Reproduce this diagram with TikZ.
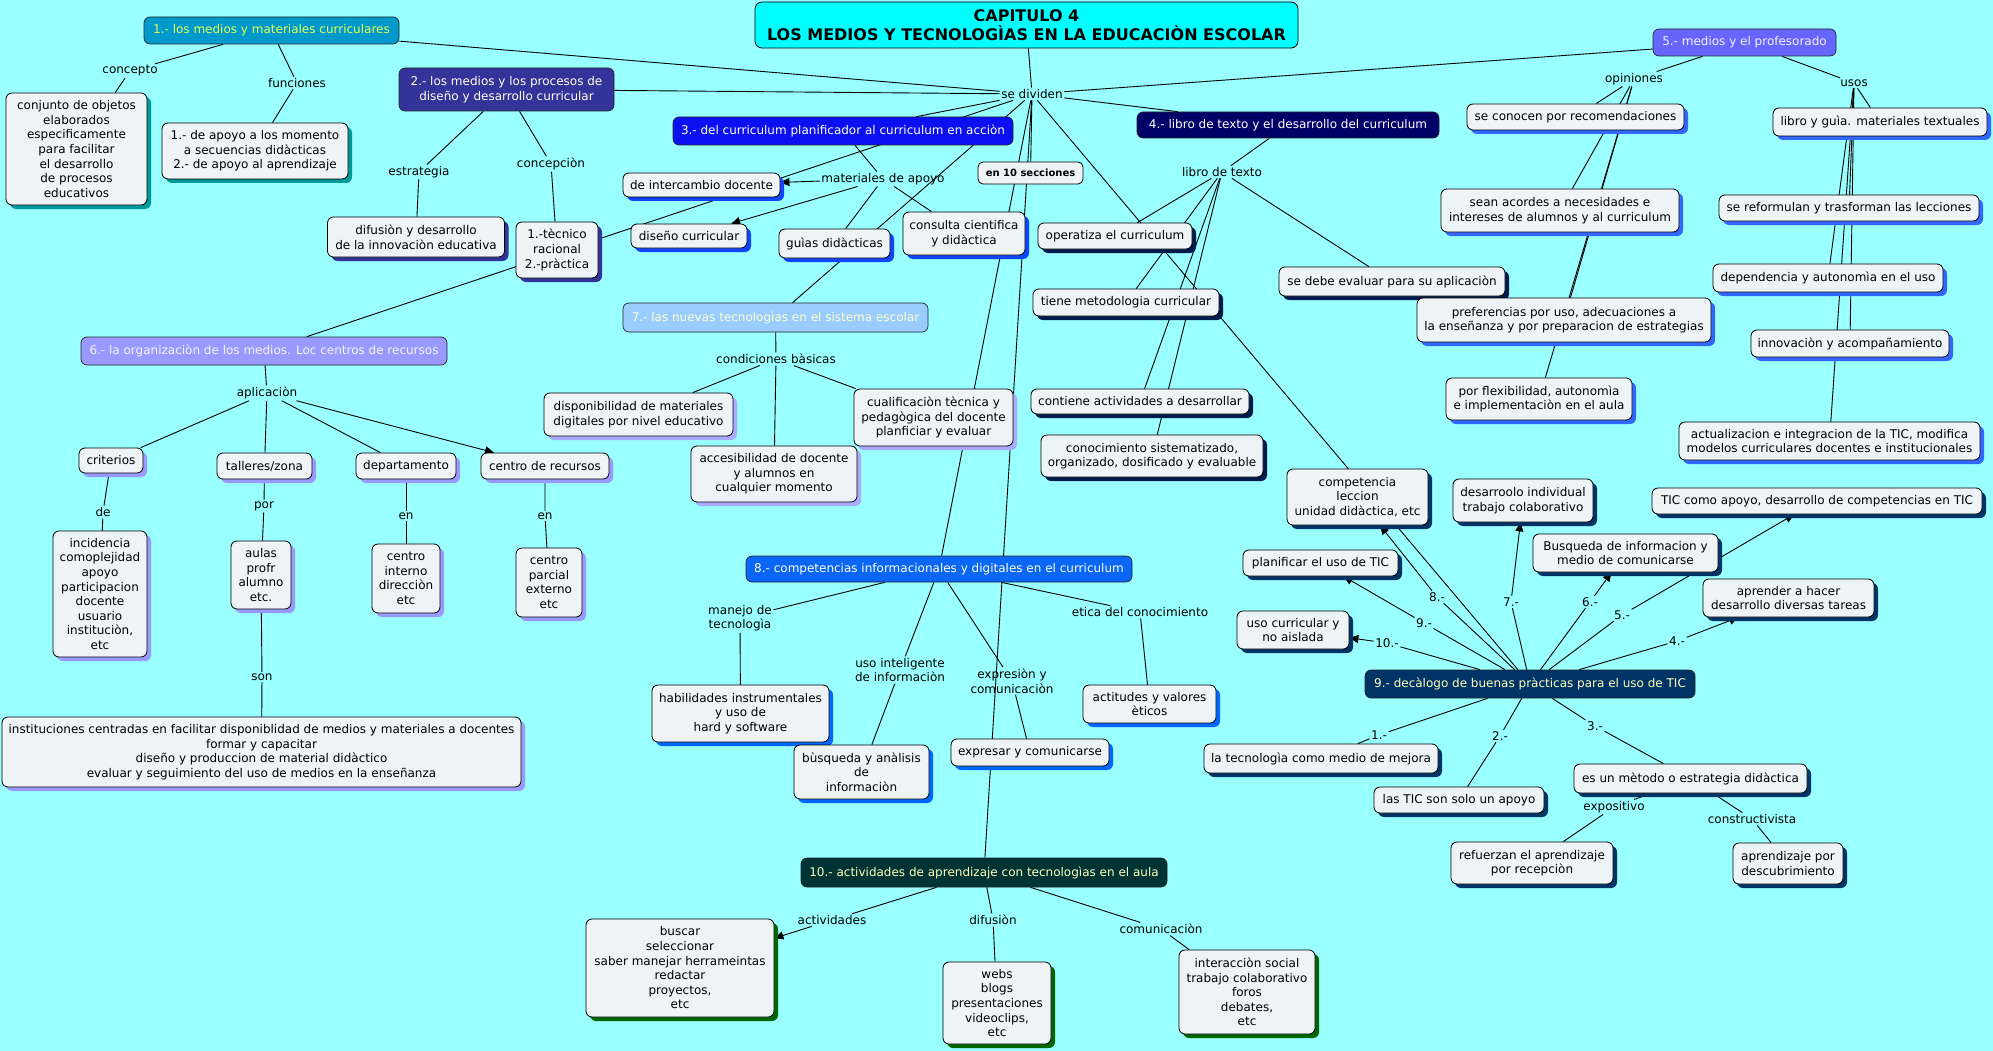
\documentclass[tikz,border=0pt]{standalone}
\usepackage{fontspec}
\setmainfont{DejaVu Sans}
\usetikzlibrary{shadows,arrows.meta}
\pgfdeclarelayer{background}
\pgfsetlayers{background,main}
\definecolor{bg}{HTML}{99FFFF}
\definecolor{cbox}{HTML}{EEF3F6}
\definecolor{titc}{HTML}{00FFFF}
\definecolor{h1}{HTML}{0099CC}\definecolor{t1}{HTML}{E8FF50}
\definecolor{h2}{HTML}{333399}\definecolor{t2}{HTML}{FFFFEE}
\definecolor{h3}{HTML}{0A10F0}
\definecolor{h4}{HTML}{000066}
\definecolor{h5}{HTML}{6666FF}\definecolor{t5}{HTML}{F2F2FF}
\definecolor{h6}{HTML}{9999FF}\definecolor{t6}{HTML}{F5F5F5}
\definecolor{h7}{HTML}{99CCFF}\definecolor{t7}{HTML}{FFFFCC}
\definecolor{h8}{HTML}{0A66F5}
\definecolor{h9}{HTML}{003366}\definecolor{t9}{HTML}{FFFFBB}
\definecolor{h10}{HTML}{003333}
\definecolor{sg1}{HTML}{009999}
\definecolor{sg2}{HTML}{333399}
\definecolor{sg3}{HTML}{1144FF}
\definecolor{sg4}{HTML}{001A4D}
\definecolor{sg5}{HTML}{3366FF}
\definecolor{sg6}{HTML}{9999FF}
\definecolor{sg7}{HTML}{AAAAFF}
\definecolor{sg8}{HTML}{0066FF}
\definecolor{sg9}{HTML}{003366}
\definecolor{sg10}{HTML}{006600}
\newcommand\cmfs{\fontsize{12}{14.6}\selectfont}
\tikzset{
 cb/.style={draw=black, line width=0.8pt, rounded corners=6pt, fill=cbox, align=center, inner sep=2pt, font=\cmfs, text=black},
 shd/.style={drop shadow={shadow xshift=4pt, shadow yshift=-4pt, fill=#1, opacity=1}},
 g1/.style={cb, shd=sg1}, g2/.style={cb, shd=sg2}, g3/.style={cb, shd=sg3},
 g4/.style={cb, shd=sg4}, g5/.style={cb, shd=sg5}, g6/.style={cb, shd=sg6},
 g7/.style={cb, shd=sg7}, g8/.style={cb, shd=sg8}, g9/.style={cb, shd=sg9},
 g10/.style={cb, shd=sg10},
 hd/.style={draw=black!85, line width=0.7pt, rounded corners=6pt, align=center, inner sep=2pt, font=\cmfs},
 lbl/.style={font=\cmfs, inner sep=1.5pt, align=center, text=black},
 arr/.style={-{Triangle[length=9pt,width=8pt]}},
 sz/.style 2 args={minimum width=#1pt, minimum height=#2pt}
}
\begin{document}
\begin{tikzpicture}[x=1pt,y=-1pt]
\path[use as bounding box] (0,0) rectangle (1993,1051);
% title
\node[draw=black, line width=0.8pt, rounded corners=7pt, fill=titc, align=center, font=\fontsize{16}{19.5}\selectfont\bfseries, sz={543}{46}, inner sep=1pt] (tit) at (1026.5,25) {CAPITULO 4\\LOS MEDIOS Y TECNOLOGÌAS EN LA EDUCACIÒN ESCOLAR};
% headers
\node[hd, fill=h1, text=t1, sz={255}{27}] (n1) at (271.5,30.5) {1.- los medios y materiales curriculares};
\node[hd, fill=h2, text=t2, sz={215}{43}] (n2) at (506.5,89.5) {2.- los medios y los procesos de\\diseño y desarrollo curricular};
\node[hd, fill=h3, text=white, sz={340}{28}] (n3) at (843,131) {3.- del curriculum planificador al curriculum en acciòn};
\node[hd, fill=h4, text=white, sz={302}{26}] (n4) at (1288,125) {4.- libro de texto y el desarrollo del curriculum};
\node[hd, fill=h5, text=t5, sz={183}{27}] (n5) at (1744.5,42.5) {5.- medios y el profesorado};
\node[hd, fill=h6, text=t6, sz={366}{28}] (n6) at (264,351) {6.- la organizaciòn de los medios. Loc centros de recursos};
\node[hd, fill=h7, text=t7, sz={305}{29}] (n7) at (775.5,317.5) {7.- las nuevas tecnologìas en el sistema escolar};
\node[hd, fill=h8, text=white, sz={386}{26}] (n8) at (939,569) {8.- competencias informacionales y digitales en el curriculum};
\node[hd, fill=h9, text=t9, sz={330}{28}] (n9) at (1530,684) {9.- decàlogo de buenas pràcticas para el uso de TIC};
\node[hd, fill=h10, text=t9, sz={366}{29}] (n10) at (984,872.5) {10.- actividades de aprendizaje con tecnologìas en el aula};
\node[cb, font=\fontsize{10}{12}\selectfont\bfseries, sz={105}{22}, rounded corners=5pt] (en10) at (1030.5,173) {en 10 secciones};
% labels
\node[lbl] (sedi) at (1032,94) {se dividen};
\node[lbl] (lcon) at (130,71) {concepto};
\node[lbl] (lfun) at (297,83) {funciones};
\node[lbl] (lest) at (419,172) {estrategia};
\node[lbl] (lcpc) at (551,164) {concepciòn};
\node[lbl] (lmat) at (883,179) {materiales de apoyo};
\node[lbl] (llib) at (1222,172) {libro de texto};
\node[lbl] (lopi) at (1634,79) {opiniones};
\node[lbl] (lusos) at (1854,83) {usos};
\node[lbl] (lapl) at (267,393) {aplicaciòn};
\node[lbl] (lde) at (103,512) {de};
\node[lbl] (lpor) at (264,506) {por};
\node[lbl] (len1) at (406,516) {en};
\node[lbl] (len2) at (545,516) {en};
\node[lbl] (lson) at (262,677) {son};
\node[lbl] (lcond) at (776,359) {condiciones bàsicas};
\node[lbl] (lman) at (740,618) {manejo de\\tecnologìa};
\node[lbl] (luso) at (900,670) {uso inteligente\\de informaciòn};
\node[lbl] (lexp) at (1012,681) {expresiòn y\\comunicaciòn};
\node[lbl] (leti) at (1140,612) {etica del conocimiento};
\node[lbl] (lact) at (832,920) {actividades};
\node[lbl] (ldif) at (993,920) {difusiòn};
\node[lbl] (lcom) at (1161,929) {comunicaciòn};
\node[lbl] (l1) at (1379,735) {1.-};
\node[lbl] (l2) at (1500,736) {2.-};
\node[lbl] (l3) at (1595,726) {3.-};
\node[lbl] (l4) at (1677,641) {4.-};
\node[lbl] (l5) at (1622,615) {5.-};
\node[lbl] (l6) at (1590,602) {6.-};
\node[lbl] (l7) at (1511,602) {7.-};
\node[lbl] (l8) at (1437,597) {8.-};
\node[lbl] (l9) at (1424,623) {9.-};
\node[lbl] (l10) at (1387,643) {10.-};
\node[lbl] (lexpo) at (1614,807) {expositivo};
\node[lbl] (lcons) at (1752,819) {constructivista};
% group 1
\node[g1, sz={141}{112}] (conj) at (76.5,149) {conjunto de objetos\\elaborados\\especificamente\\para facilitar\\el desarrollo\\de procesos\\educativos};
\node[g1, sz={186}{56}] (func) at (255,151) {1.- de apoyo a los momento\\a secuencias didàcticas\\2.- de apoyo al aprendizaje};
% group 2
\node[g2, sz={177}{40}] (difu) at (416,237) {difusiòn y desarrollo\\de la innovaciòn educativa};
\node[g2, sz={82}{56}] (tecn) at (557,250) {1.-tècnico\\racional\\2.-pràctica};
% group 3
\node[g3, sz={157}{24}] (inter) at (701.5,185) {de intercambio docente};
\node[g3, sz={116}{24}] (disen) at (689,236) {diseño curricular};
\node[g3, sz={111}{29}] (guias) at (834.5,243.5) {guìas didàcticas};
\node[g3, sz={122}{43}] (consu) at (964,233.5) {consulta cientifica\\y didàctica};
% group 4
\node[g4, sz={154}{26}] (opera) at (1115,236) {operatiza el curriculum};
\node[g4, sz={186}{27}] (tiene) at (1126,302.5) {tiene metodologia curricular};
\node[g4, sz={218}{25}] (conti) at (1140,401.5) {contiene actividades a desarrollar};
\node[g4, sz={222}{42}] (conoc) at (1152,456) {conocimiento sistematizado,\\organizado, dosificado y evaluable};
\node[g4, sz={226}{29}] (evalu) at (1392,281.5) {se debe evaluar para su aplicaciòn};
% group 5
\node[g5, sz={217}{26}] (conoce) at (1575.5,117) {se conocen por recomendaciones};
\node[g5, sz={238}{43}] (acord) at (1560,210.5) {sean acordes a necesidades e\\intereses de alumnos y al curriculum};
\node[g5, sz={294}{44}] (prefe) at (1564,320) {preferencias por uso, adecuaciones a\\la enseñanza y por preparacion de estrategias};
\node[g5, sz={186}{42}] (flexi) at (1539,399) {por flexibilidad, autonomìa\\e implementaciòn en el aula};
\node[g5, sz={214}{28}] (libro) at (1880,122) {libro y guìa. materiales textuales};
\node[g5, sz={260}{26}] (refor) at (1849,208) {se reformulan y trasforman las lecciones};
\node[g5, sz={230}{28}] (depen) at (1828,278) {dependencia y autonomìa en el uso};
\node[g5, sz={198}{27}] (innov) at (1850,343.5) {innovaciòn y acompañamiento};
\node[g5, sz={301}{38}] (actua) at (1829.5,441) {actualizacion e integracion de la TIC, modifica\\modelos curriculares docentes e institucionales};
% group 6
\node[g6, sz={64}{25}] (crit) at (111,460.5) {criterios};
\node[g6, sz={95}{26}] (talle) at (264.5,466) {talleres/zona};
\node[g6, sz={100}{26}] (depa) at (406,466) {departamento};
\node[g6, sz={128}{26}] (cent) at (545,466) {centro de recursos};
\node[g6, sz={94}{126}] (inci) at (100,594) {incidencia\\comoplejidad\\apoyo\\participacion\\docente\\usuario\\instituciòn,\\etc};
\node[g6, sz={60}{68}] (aulas) at (261,575) {aulas\\profr\\alumno\\etc.};
\node[g6, sz={68}{69}] (cint) at (406,578.5) {centro\\interno\\direcciòn\\etc};
\node[g6, sz={66}{69}] (cpar) at (549,582.5) {centro\\parcial\\externo\\etc};
\node[g6, sz={519}{70}] (inst) at (261.5,752) {instituciones centradas en facilitar disponiblidad de medios y materiales a docentes\\formar y capacitar\\diseño y produccion de material didàctico\\evaluar y seguimiento del uso de medios en la enseñanza};
% group 7
\node[g7, sz={189}{43}] (dispo) at (638.5,414.5) {disponibilidad de materiales\\digitales por nivel educativo};
\node[g7, sz={166}{56}] (acces) at (774,474) {accesibilidad de docente\\y alumnos en\\cualquier momento};
\node[g7, sz={159}{57}] (cuali) at (933.5,417.5) {cualificaciòn tècnica y\\pedagògica del docente\\planficiar y evaluar};
% group 8
\node[g8, sz={177}{57}] (habil) at (740.5,713.5) {habilidades instrumentales\\y uso de\\hard y software};
\node[g8, sz={135}{54}] (busq) at (861.5,772) {bùsqueda y anàlisis\\de\\informaciòn};
\node[g8, sz={158}{27}] (expre) at (1030,752.5) {expresar y comunicarse};
\node[g8, sz={133}{38}] (actit) at (1149.5,704) {actitudes y valores\\èticos};
% group 9
\node[g9, sz={141}{56}] (compe) at (1357.5,497) {competencia\\leccion\\unidad didàctica, etc};
\node[g9, sz={155}{26}] (plani) at (1320.5,563) {planificar el uso de TIC};
\node[g9, sz={112}{38}] (usocu) at (1293,630) {uso curricular y\\no aislada};
\node[g9, sz={140}{43}] (desar) at (1523,500.5) {desarroolo individual\\trabajo colaborativo};
\node[g9, sz={330}{26}] (ticap) at (1817,501) {TIC como apoyo, desarrollo de competencias en TIC};
\node[g9, sz={185}{38}] (busi) at (1625.5,553) {Busqueda de informacion y\\medio de comunicarse};
\node[g9, sz={171}{38}] (apren) at (1788.5,598) {aprender a hacer\\desarrollo diversas tareas};
\node[g9, sz={234}{29}] (tecme) at (1321,758.5) {la tecnologìa como medio de mejora};
\node[g9, sz={170}{26}] (ticso) at (1459,800) {las TIC son solo un apoyo};
\node[g9, sz={233}{29}] (metod) at (1690.5,778.5) {es un mètodo o estrategia didàctica};
\node[g9, sz={162}{42}] (refue) at (1532,863) {refuerzan el aprendizaje\\por recepciòn};
\node[g9, sz={110}{41}] (descu) at (1788,863.5) {aprendizaje por\\descubrimiento};
% group 10
\node[g10, sz={188}{98}] (busca) at (680,968) {buscar\\seleccionar\\saber manejar herrameintas\\redactar\\proyectos,\\etc};
\node[g10, sz={108}{82}] (webs) at (997,1003) {webs\\blogs\\presentaciones\\videoclips,\\etc};
\node[g10, sz={136}{84}] (inte2) at (1247,992) {interacciòn social\\trabajo colaborativo\\foros\\debates,\\etc};
% connectors
\begin{pgfonlayer}{background}
\fill[bg] (0,0) rectangle (1993,1051);
\begin{scope}[line width=0.9pt]
\draw (tit) -- (sedi);
\foreach \t in {n1,n2,n3,n4,n5,n6,n7,n8,n9,n10,en10} \draw (sedi) -- (\t);
\draw (n1) -- (lcon) -- (conj);
\draw (n1) -- (lfun) -- (func);
\draw (n2) -- (lest) -- (difu);
\draw (n2) -- (lcpc) -- (tecn);
\draw (n3) -- (lmat);
\draw[arr] (lmat) -- (inter);
\draw[arr] (lmat) -- (disen);
\draw (lmat) -- (guias);
\draw (lmat) -- (consu);
\draw (n4) -- (llib);
\foreach \t in {opera,tiene,conti,conoc,evalu} \draw (llib) -- (\t);
\draw (n5) -- (lopi);
\draw (n5) -- (lusos);
\foreach \t in {conoce,acord,prefe,flexi} \draw (lopi) -- (\t);
\foreach \t in {libro,refor,depen,innov,actua} \draw (lusos) -- (\t);
\draw (n6) -- (lapl);
\draw (lapl) -- (crit);
\draw (lapl) -- (talle);
\draw (lapl) -- (depa);
\draw[arr] (lapl) -- (cent);
\draw (crit) -- (lde) -- (inci);
\draw (talle) -- (lpor) -- (aulas);
\draw (aulas) -- (lson) -- (inst);
\draw (depa) -- (len1) -- (cint);
\draw (cent) -- (len2) -- (cpar);
\draw (n7) -- (lcond);
\foreach \t in {dispo,acces,cuali} \draw (lcond) -- (\t);
\draw (n8) -- (lman) -- (habil);
\draw (n8) -- (luso) -- (busq);
\draw (n8) -- (lexp) -- (expre);
\draw (n8) -- (leti) -- (actit);
\draw (n9) -- (l1) -- (tecme);
\draw (n9) -- (l2) -- (ticso);
\draw (n9) -- (l3) -- (metod);
\draw (metod) -- (lexpo) -- (refue);
\draw (metod) -- (lcons) -- (descu);
\draw (n9) -- (l4); \draw[arr] (l4) -- (apren);
\draw (n9) -- (l5); \draw[arr] (l5) -- (ticap);
\draw (n9) -- (l6); \draw[arr] (l6) -- (busi);
\draw (n9) -- (l7); \draw[arr] (l7) -- (desar);
\draw (n9) -- (l8); \draw[arr] (l8) -- (compe);
\draw (n9) -- (l9); \draw[arr] (l9) -- (plani);
\draw (n9) -- (l10); \draw[arr] (l10) -- (usocu);
\draw (n10) -- (lact); \draw[arr] (lact) -- (busca);
\draw (n10) -- (ldif) -- (webs);
\draw (n10) -- (lcom) -- (inte2);
\end{scope}
\end{pgfonlayer}
\end{tikzpicture}
\end{document}
